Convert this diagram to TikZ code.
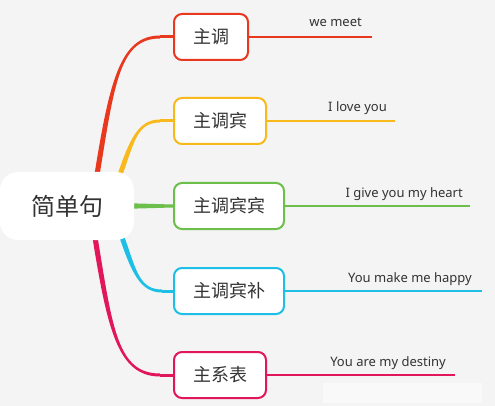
\documentclass[tikz,border=0pt]{standalone}
\usepackage{fontspec}
\setmainfont{Noto Sans}
\newfontfamily\cjk{Noto Sans CJK SC}
\usepackage{tikz}
\usetikzlibrary{positioning, calc}
\pgfdeclarelayer{bg}
\pgfsetlayers{bg,main}
\definecolor{paper}{HTML}{F4F4F4}
\definecolor{ink}{HTML}{333333}
\definecolor{cred}{HTML}{E8391E}
\definecolor{cyel}{HTML}{F8B91D}
\definecolor{cgrn}{HTML}{6DBF4B}
\definecolor{ccya}{HTML}{1DBFE6}
\definecolor{cpnk}{HTML}{E2165B}
% tapered branch: colour, start, control 1, control 2, end, side (1 up, -1 down)
\newcommand{\limb}[6]{%
	\fill[#1] ($(#2)+(-2.6,0)$) .. controls ($(#3)+(-2.6,0)$) and ($(#4)+(0,-1.5*#6)$) .. ($(#5)+(0,-1.5*#6)$)
		-- ($(#5)+(0,1.5*#6)$) .. controls ($(#4)+(0,1.5*#6)$) and ($(#3)+(2.6,0)$) .. ($(#2)+(2.6,0)$) -- cycle;}

\begin{document}
\begin{tikzpicture}[x=1pt, y=-1pt]
	\tikzstyle{rootc}=[rectangle, rounded corners=18pt, fill=white, minimum width=134pt, minimum height=68pt, font=\cjk\fontsize{24}{28}\selectfont, text=ink]
	\tikzstyle{taskb}=[rectangle, rounded corners=8pt, draw, line width=2pt, fill=white, minimum height=46pt, inner xsep=19pt, font=\cjk\fontsize{18}{22}\selectfont, text=ink, anchor=west]
	\tikzstyle{leaf}=[font=\fontsize{13}{16}\selectfont, text=ink, anchor=base east, inner sep=0pt]
	\tikzstyle{trunk}=[line width=3pt]
	\tikzstyle{twig}=[line width=2pt]
	\begin{pgfonlayer}{bg}
	\fill[paper] (0,0) rectangle (495,406);
	\fill[white!50!paper] (323,383) rectangle (482,403);
	\end{pgfonlayer}
	\useasboundingbox (0,0) rectangle (495,406);

	\node (root) at (67,206) [rootc]{简单句};

	\node (b1) at (173,37) [taskb, draw=cred]{主调};
	\node (b2) at (173,121) [taskb, draw=cyel]{主调宾};
	\node (b3) at (173,206) [taskb, draw=cgrn]{主调宾宾};
	\node (b4) at (173,291) [taskb, draw=ccya]{主调宾补};
	\node (b5) at (173,375) [taskb, draw=cpnk]{主系表};

	\coordinate (e1) at (372,37);
	\coordinate (e2) at (395,121);
	\coordinate (e3) at (470,206);
	\coordinate (e4) at (482,291);
	\coordinate (e5) at (455,375);

	\draw[twig, cred] (b1) -- (e1);
	\draw[twig, cyel] (b2) -- (e2);
	\draw[twig, cgrn] (b3) -- (e3);
	\draw[twig, ccya] (b4) -- (e4);
	\draw[twig, cpnk] (b5) -- (e5);

	\node (s1) at ([shift={(-10pt,10pt)}]e1) [leaf]{we meet};
	\node (s2) at ([shift={(-8pt,9pt)}]e2) [leaf]{I love you};
	\node (s3) at ([shift={(-7pt,9pt)}]e3) [leaf]{I give you my heart};
	\node (s4) at ([shift={(-10pt,9pt)}]e4) [leaf]{You make me happy};
	\node (s5) at ([shift={(-9pt,9pt)}]e5) [leaf]{You are my destiny};

	% branches, behind the root
	\coordinate (r1) at ([xshift=30pt, yshift=-3pt]root.north);
	\coordinate (r2) at ([xshift=53pt, yshift=-3pt]root.north);
	\coordinate (r4) at ([xshift=55pt, yshift=3pt]root.south);
	\coordinate (r5) at ([xshift=28pt, yshift=3pt]root.south);
	\coordinate (k1) at (160,37);
	\coordinate (k2) at (160,121);
	\coordinate (k4) at (162,291);
	\coordinate (k5) at (160,375);
	\begin{pgfonlayer}{bg}
	\limb{cred}{r1}{112,82}{120,37}{k1}{1}
	\draw[trunk, cred] (k1) -- (b1.west);
	\limb{cyel}{r2}{132,140}{138,121}{k2}{1}
	\draw[trunk, cyel] (k2) -- (b2.west);
	\fill[cgrn] ([yshift=2.6pt]root.east) -- ([yshift=1.5pt]b3.west) -- ([yshift=-1.5pt]b3.west) -- ([yshift=-2.6pt]root.east) -- cycle;
	\limb{ccya}{r4}{134,272}{140,291}{k4}{-1}
	\draw[trunk, ccya] (k4) -- (b4.west);
	\limb{cpnk}{r5}{110,330}{118,375}{k5}{-1}
	\draw[trunk, cpnk] (k5) -- (b5.west);
	\end{pgfonlayer}
\end{tikzpicture}
\end{document}
